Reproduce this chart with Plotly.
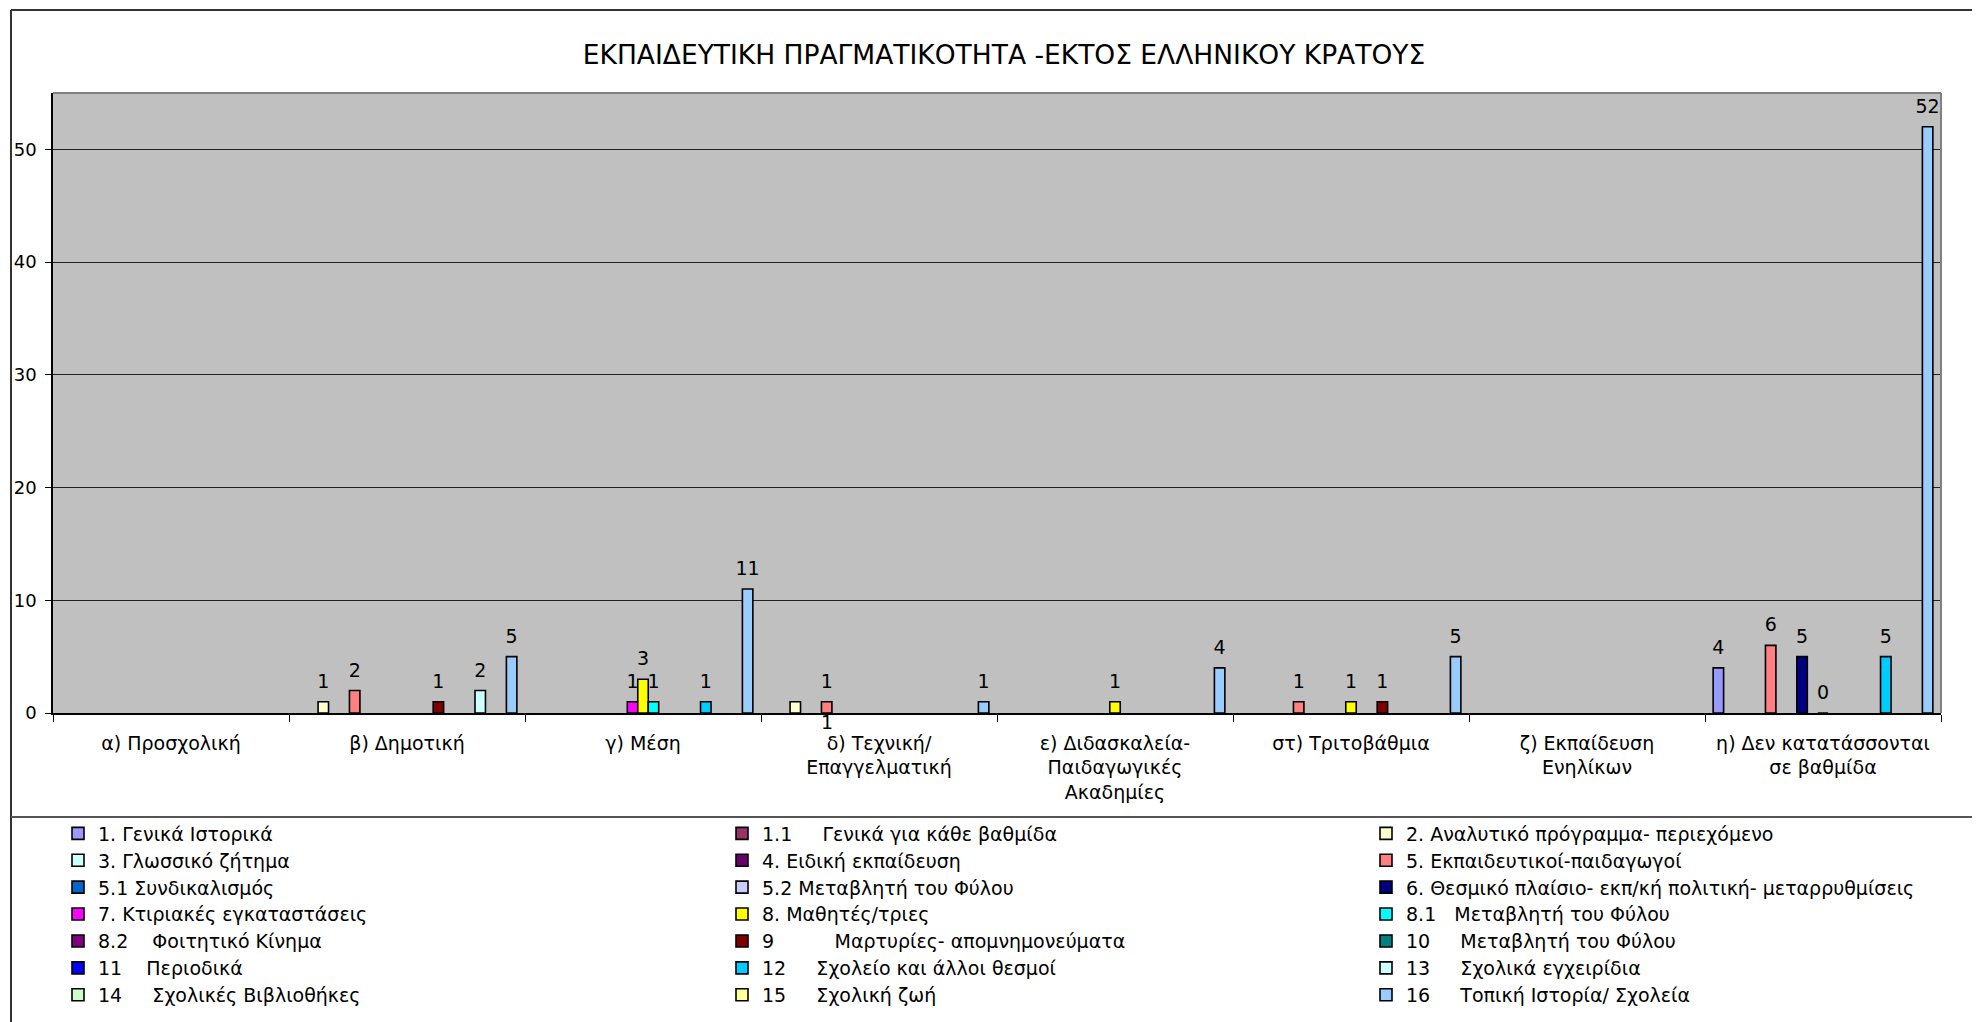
import plotly.graph_objects as go

# ---------------- data ----------------
categories = [
    "α) Προσχολική",
    "β) Δημοτική",
    "γ) Μέση",
    "δ) Τεχνική/<br>Επαγγελματική",
    "ε) Διδασκαλεία-<br>Παιδαγωγικές<br>Ακαδημίες",
    "στ) Τριτοβάθμια",
    "ζ) Εκπαίδευση<br>Ενηλίκων",
    "η) Δεν κατατάσσονται<br>σε βαθμίδα",
]

N = None
v_1 = [N, N, N, N, N, N, N, 4]
v_1_1 = [N, N, N, N, N, N, N, N]
v_2 = [N, 1, N, 1, N, N, N, N]
v_3 = [N, N, N, N, N, N, N, N]
v_4 = [N, N, N, N, N, N, N, N]
v_5 = [N, 2, N, 1, N, 1, N, 6]
v_5_1 = [N, N, N, N, N, N, N, N]
v_5_2 = [N, N, N, N, N, N, N, N]
v_6 = [N, N, N, N, N, N, N, 5]
v_7 = [N, N, 1, N, N, N, N, N]
v_8 = [N, N, 3, N, 1, 1, N, 0]
v_8_1 = [N, N, 1, N, N, N, N, N]
v_8_2 = [N, N, N, N, N, N, N, N]
v_9 = [N, 1, N, N, N, 1, N, N]
v_10 = [N, N, N, N, N, N, N, N]
v_11 = [N, N, N, N, N, N, N, N]
v_12 = [N, N, 1, N, N, N, N, 5]
v_13 = [N, 2, N, N, N, N, N, N]
v_14 = [N, N, N, N, N, N, N, N]
v_15 = [N, N, N, N, N, N, N, N]
v_16 = [N, 5, 11, 1, 4, 5, N, 52]

sp = "\u00a0"
series_names = [
    "1. Γενικά Ιστορικά",
    "1.1" + sp * 5 + "Γενικά για κάθε βαθμίδα",
    "2. Αναλυτικό πρόγραμμα- περιεχόμενο",
    "3. Γλωσσικό ζήτημα",
    "4. Ειδική εκπαίδευση",
    "5. Εκπαιδευτικοί-παιδαγωγοί",
    "5.1 Συνδικαλισμός",
    "5.2 Μεταβλητή του Φύλου",
    "6. Θεσμικό πλαίσιο- εκπ/κή πολιτική- μεταρρυθμίσεις",
    "7. Κτιριακές εγκαταστάσεις",
    "8. Μαθητές/τριες",
    "8.1" + sp * 3 + "Μεταβλητή του Φύλου",
    "8.2" + sp * 4 + "Φοιτητικό Κίνημα",
    "9" + sp * 10 + "Μαρτυρίες- απομνημονεύματα",
    "10" + sp * 5 + "Μεταβλητή του Φύλου",
    "11" + sp * 4 + "Περιοδικά",
    "12" + sp * 5 + "Σχολείο και άλλοι θεσμοί",
    "13" + sp * 5 + "Σχολικά εγχειρίδια",
    "14" + sp * 5 + "Σχολικές Βιβλιοθήκες",
    "15" + sp * 5 + "Σχολική ζωή",
    "16" + sp * 5 + "Τοπική Ιστορία/ Σχολεία",
]
series_colors = [
    "#9999FF", "#993366", "#FFFFCC", "#CCFFFF", "#660066", "#FF8080",
    "#0066CC", "#CCCCFF", "#000080", "#FF00FF", "#FFFF00", "#00FFFF",
    "#800080", "#800000", "#008080", "#0000FF", "#00CCFF", "#CCFFFF",
    "#CCFFCC", "#FFFF99", "#99CCFF",
]
series_values = [v_1, v_1_1, v_2, v_3, v_4, v_5, v_5_1, v_5_2, v_6, v_7, v_8,
                 v_8_1, v_8_2, v_9, v_10, v_11, v_12, v_13, v_14, v_15, v_16]

title_text = "ΕΚΠΑΙΔΕΥΤΙΚΗ ΠΡΑΓΜΑΤΙΚΟΤΗΤΑ -ΕΚΤΟΣ ΕΛΛΗΝΙΚΟΥ ΚΡΑΤΟΥΣ"

# ---------------- layout geometry ----------------
OFF = 8                      # browser default body margin
W, H = 1980 - OFF, 1022 - OFF
L, R, T, B = 45, 39, 85, 309
PW, PH = W - L - R, H - T - B
FONT = "DejaVu Sans, Liberation Sans, Arial, sans-serif"


def pxx(px):  # page pixel -> paper x
    return (px - OFF - L) / PW


def pxy(py):  # page pixel -> paper y
    return 1 - (py - OFF - T) / PH


n_series = len(series_values)
bargap = 0.069
w = (1 - bargap) / n_series
cat_idx = list(range(len(categories)))

# label moved below the axis in the reference (series "2.", category δ)
moved_label = (2, 3, 5)  # (series, category, drawn at slot of series)


def legend_key(i):
    return "legend" if i == 0 else "legend%d" % (i + 1)


fig = go.Figure()

for s, (name, col, vals) in enumerate(zip(series_names, series_colors, series_values)):
    xs = [c + (s - (n_series - 1) / 2) * w for c in cat_idx]
    fig.add_trace(go.Bar(
        x=xs, y=vals, width=w, name=name,
        marker=dict(color=col, line=dict(color="black", width=1.6)),
        legend=legend_key(s),
        hoverinfo="skip",
    ))

for s, vals in enumerate(series_values):
    xs, ys, ts = [], [], []
    for c, v in zip(cat_idx, vals):
        if v is None:
            continue
        if (s, c) == moved_label[:2]:
            continue
        xs.append(c + (s - (n_series - 1) / 2) * w)
        ys.append(v)
        ts.append(str(v))
    if not xs:
        continue
    fig.add_trace(go.Scatter(
        x=xs, y=ys, text=ts, mode="markers+text",
        marker=dict(size=13, opacity=0),
        textposition="top center",
        textfont=dict(size=19, color="black", family=FONT),
        showlegend=False, hoverinfo="skip", cliponaxis=False,
    ))

ms, mc, mslot = moved_label
fig.add_annotation(
    x=mc + (mslot - (n_series - 1) / 2) * w, y=0, xref="x", yref="y",
    text=str(series_values[ms][mc]), showarrow=False, yanchor="top", yshift=3,
    font=dict(size=19, color="black", family=FONT), borderpad=0,
)

line_col = "#333333"
shapes = [
    dict(type="line", xref="paper", yref="paper", x0=pxx(11), x1=pxx(1990), y0=pxy(10), y1=pxy(10),
         line=dict(color=line_col, width=2)),
    dict(type="line", xref="paper", yref="paper", x0=pxx(11), x1=pxx(11), y0=pxy(10), y1=pxy(1030),
         line=dict(color=line_col, width=2)),
    dict(type="line", xref="paper", yref="paper", x0=pxx(11), x1=pxx(1990), y0=pxy(817), y1=pxy(817),
         line=dict(color="#555555", width=2)),
    dict(type="line", xref="paper", yref="paper", x0=0, x1=1, y0=1, y1=1,
         line=dict(color="#808080", width=2)),
    dict(type="line", xref="paper", yref="paper", x0=1, x1=1, y0=0, y1=1,
         line=dict(color="#808080", width=2)),
]

# legend grid (3 columns, 7 rows) in page pixels: left edge of each legend box
col_left = [58, 722, 1366]
row_center0, row_step = 833.5, 26.9

legends = {}
for i in range(n_series):
    r, c = divmod(i, 3)
    legends[legend_key(i)] = dict(
        orientation="v", xanchor="left", yanchor="middle",
        x=pxx(col_left[c]), y=pxy(row_center0 + r * row_step),
        bgcolor="rgba(0,0,0,0)", borderwidth=0, tracegroupgap=0,
        font=dict(size=19, color="black", family=FONT),
    )

fig.update_layout(
    width=W, height=H,
    margin=dict(l=L, r=R, t=T, b=B, pad=0, autoexpand=False),
    paper_bgcolor="white",
    plot_bgcolor="#C0C0C0",
    barmode="overlay",
    font=dict(family=FONT, color="black", size=18),
    title=dict(text=title_text, x=(1004 - OFF) / W, xanchor="center",
               y=1 - (55 - OFF) / H, yanchor="middle",
               xref="container", yref="container",
               font=dict(size=26.5, color="black", family=FONT)),
    xaxis=dict(
        range=[-0.5, len(categories) - 0.5],
        tickmode="array", tickvals=cat_idx, ticktext=categories,
        ticks="", showgrid=False, zeroline=False,
        showline=True, linecolor="black", linewidth=1.5,
        tickfont=dict(size=19, color="black", family=FONT),
        ticklabelstandoff=12,
        minor=dict(tickmode="array", tickvals=[c - 0.5 for c in cat_idx] + [len(categories) - 0.5],
                   ticks="outside", ticklen=7, tickcolor="black", tickwidth=1, showgrid=False),
    ),
    yaxis=dict(
        range=[0, 55], tickmode="linear", tick0=0, dtick=10,
        ticks="outside", ticklen=6, tickcolor="black", tickwidth=1,
        showgrid=True, gridcolor="#222222", gridwidth=1,
        zeroline=False, showline=True, linecolor="black", linewidth=1.5,
        tickfont=dict(size=18, color="black", family=FONT),
        ticklabelstandoff=5,
    ),
    shapes=shapes,
    showlegend=True,
    **legends,
)

fig.write_html("out.html")
